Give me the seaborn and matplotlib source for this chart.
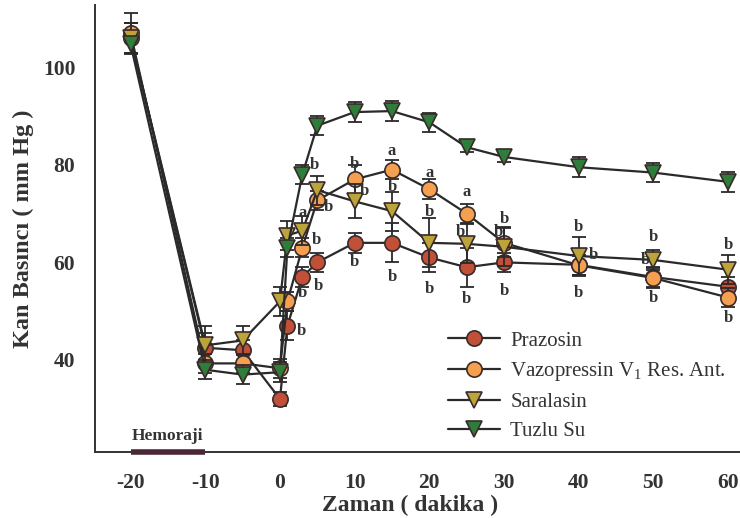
import matplotlib
matplotlib.use("Agg")
import matplotlib.pyplot as plt
import seaborn as sns
import pandas as pd

times = [-20, -10, -5, 0, 1, 3, 5, 10, 15, 20, 25, 30, 40, 50, 60]

prazosin = [106, 42.5, 42, 32, 47, 57, 60, 64, 64, 61, 59, 60, 59.5, 57, 55]
vazopressin = [107, 39.3, 39.3, 38.3, 52, 63, 72.7, 77, 79, 75, 70, 64, 59.4, 56.8, 52.8]
saralasin = [106, 43, 44, 52, 65.5, 66.5, 74.8, 72.5, 70.5, 64, 63.8, 63.2, 61.3, 60.5, 58.5]
tuzlu_su = [104.7, 38, 37, 37.5, 63, 78, 88, 90.8, 91, 88.7, 83.6, 81.6, 79.5, 78.4, 76.5]

prazosin_err = [3, 3, 2, 1.5, 3, 2, 2, 2, 4, 3, 4, 2, 2, 2, 2]
vazopressin_err = [4, 2, 2, 2, 2, 2, 2, 3, 2, 2, 2, 3, 2, 2, 2]
saralasin_err = [3, 4, 3, 3, 3, 3, 3, 3.5, 4, 5, 4, 4, 4, 2, 3]
tuzlu_su_err = [2, 2, 2, 2, 2, 2, 2, 2, 2, 2, 1, 1, 2, 2, 2]

series_names = ["Prazosin", "Vazopressin V$_1$ Res. Ant.", "Saralasin", "Tuzlu Su"]

# significance letters: (series index, time, letter, dx px, dy px)
letters = [
    (3, 3, "b", 12, 10),
    (1, 10, "b", 0, 15),
    (2, 10, "b", 10, 10),
    (1, 5, "b", 11, -7),
    (2, 3, "a", 0, 18),
    (1, 3, "b", 14, 8),
    (0, 10, "b", 0, -19),
    (0, 15, "b", 0, -34),
    (2, 15, "b", 0, 24),
    (1, 15, "a", 0, 19),
    (0, 3, "b", 16, -9),
    (1, 1, "b", 15, 8),
    (0, 1, "b", 14, -5),
    (1, 20, "a", 0, 16),
    (2, 20, "b", 0, 31),
    (0, 20, "b", 0, -32),
    (1, 25, "a", 0, 22),
    (2, 25, "b", -6, 12),
    (0, 25, "b", 0, -32),
    (1, 30, "b", 0, 24),
    (2, 30, "b", -6, 15),
    (0, 30, "b", 0, -29),
    (2, 40, "b", 0, 29),
    (2, 40, "b", 15, 1),
    (1, 40, "b", 0, -28),
    (2, 50, "b", 0, 23),
    (2, 50, "b", -8, 0),
    (1, 50, "b", 0, -20),
    (2, 60, "b", 0, 25),
    (1, 60, "b", 0, -20),
]

values = [prazosin, vazopressin, saralasin, tuzlu_su]
errors = [prazosin_err, vazopressin_err, saralasin_err, tuzlu_su_err]
colors = ["#c05038", "#f5a050", "#bba53a", "#2f7d3a"]
markers = ["o", "o", "v", "v"]
draw_order = [3, 0, 1, 2]

sns.set_theme(style="white")
serif = ["Liberation Serif", "DejaVu Serif"]
plt.rcParams["font.family"] = serif
plt.rcParams["mathtext.fontset"] = "custom"
plt.rcParams["mathtext.rm"] = "Liberation Serif"
plt.rcParams["axes.unicode_minus"] = False

fig = plt.figure(figsize=(7.4, 5.18), dpi=100)
ax = fig.add_axes([0.128, 0.127, 0.872, 0.863])

line_col = "#2a2a2a"
handles = {}
for i in draw_order:
    df = pd.DataFrame({"t": times, "v": values[i]})
    ax.errorbar(times, values[i], yerr=errors[i], fmt="none", ecolor=line_col,
                elinewidth=1.3, capsize=5, capthick=1.3, zorder=2 + i)
    sns.lineplot(data=df, x="t", y="v", ax=ax, color=line_col, lw=1.6,
                 marker=markers[i], markersize=11,
                 markerfacecolor=colors[i], markeredgecolor="#3a2a2a",
                 markeredgewidth=1.2, zorder=3 + i, label=series_names[i],
                 legend=False)
    handles[i] = ax.lines[-1]

for si, t, let, dx, dy in letters:
    v = values[si][times.index(t)]
    ax.annotate(let, xy=(t, v), xytext=(dx, dy), textcoords="offset pixels",
                ha="center", va="center", fontsize=12, fontweight="bold",
                color="#333333", zorder=20)

ax.set_xlim(-24.8, 61.6)
ax.set_ylim(21.1, 112.7)
ax.set_xticks([-20, -10, 0, 10, 20, 30, 40, 50, 60])
ax.set_yticks([40, 60, 80, 100])
ax.tick_params(axis="both", direction="out", length=6, width=1.2, colors="#333333",
               labelsize=15.5)
ax.tick_params(axis="x", pad=9)
ax.tick_params(axis="y", pad=8)
for lab in ax.get_xticklabels() + ax.get_yticklabels():
    lab.set_fontweight("bold")
    lab.set_color("#333333")
ax.set_xlabel("")
ax.set_ylabel("")
for s in ["top", "right"]:
    ax.spines[s].set_visible(False)
for s in ["left", "bottom"]:
    ax.spines[s].set_color("#333333")
    ax.spines[s].set_linewidth(1.4)

# hemorrhage period bar
ax.plot([-20, -10], [21.1, 21.1], color="#4a2636", lw=4, clip_on=False, zorder=10,
        solid_capstyle="butt")
ax.text(-15, 24.4, "Hemoraji", ha="center", va="center", fontsize=12.5,
        fontweight="bold", color="#333333")

fig.text(410 / 740, 1 - 505 / 518, "Zaman ( dakika )", ha="center", va="center",
         fontsize=17, fontweight="bold", color="#333333")
fig.text(23 / 740, 1 - 229 / 518, "Kan Basıncı ( mm Hg )", ha="center", va="center",
         rotation=90, fontsize=17.5, fontweight="bold", color="#333333")

leg = ax.legend([handles[i] for i in range(4)], series_names, loc="upper left",
                bbox_to_anchor=(448 / 740, 1 - 331 / 518),
                bbox_transform=fig.transFigure, frameon=False, fontsize=15,
                handlelength=2.5, handletextpad=0.5, labelspacing=0.45,
                borderpad=0, borderaxespad=0)
for txt in leg.get_texts():
    txt.set_color("#333333")

fig.savefig("out.png", dpi=100, facecolor="white")
